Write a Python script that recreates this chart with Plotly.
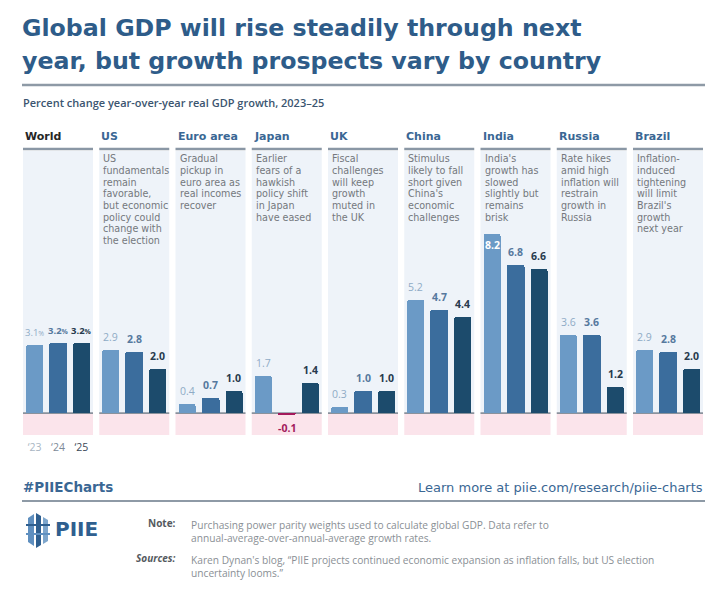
import plotly.graph_objects as go

# Page body has an 8px default margin; compensate so screen coordinates match.
OFF = 8
W, H = 720 - 2 * OFF, 589 - 2 * OFF

regions = ["World", "US", "Euro area", "Japan", "UK", "China", "India", "Russia", "Brazil"]
years = ["'23", "'24", "'25"]
gdp_2023 = [3.1, 2.9, 0.4, 1.7, 0.3, 5.2, 8.2, 3.6, 2.9]
gdp_2024 = [3.2, 2.8, 0.7, -0.1, 1.0, 4.7, 6.8, 3.6, 2.8]
gdp_2025 = [3.2, 2.0, 1.0, 1.4, 1.0, 4.4, 6.6, 1.2, 2.0]
notes = [
    [],
    ["US", "fundamentals", "remain", "favorable,", "but economic", "policy could", "change with", "the election"],
    ["Gradual", "pickup in", "euro area as", "real incomes", "recover"],
    ["Earlier", "fears of a", "hawkish", "policy shift", "in Japan", "have eased"],
    ["Fiscal", "challenges", "will keep", "growth", "muted in", "the UK"],
    ["Stimulus", "likely to fall", "short given", "China's", "economic", "challenges"],
    ["India's", "growth has", "slowed", "slightly but", "remains", "brisk"],
    ["Rate hikes", "amid high", "inflation will", "restrain", "growth in", "Russia"],
    ["Inflation-", "induced", "tightening", "will limit", "Brazil's", "growth", "next year"],
]
note_lines = ["Purchasing power parity weights used to calculate global GDP. Data refer to",
              "annual-average-over-annual-average growth rates."]
source_lines = ["Karen Dynan's blog, \u201cPIIE projects continued economic expansion as inflation falls, but US election",
                "uncertainty looms.\u201d"]

BAR_COLORS = ["#6b9ac6", "#3b6d9d", "#1c4b6c"]
LABEL_COLORS = ["#8fabc6", "#56799e", "#273a4d"]
NEG_COLOR = "#a3195b"
TITLE_BLUE = "#2e5c89"
FONT = "DejaVu Sans"
FONT2 = "Open Sans"


def px(x):
    return (x - OFF) / W


def py(y):
    return 1 - (y - OFF) / H


Y_TOP, Y_BOT = 151, 435
PANEL_X0, PANEL_PITCH, PANEL_W = 23, 76.25, 70

fig = go.Figure()
shapes = []
annotations = []

for i, name in enumerate(regions):
    k = i + 1
    xa = "x" if k == 1 else f"x{k}"
    ya = "y" if k == 1 else f"y{k}"
    vals = [gdp_2023[i], gdp_2024[i], gdp_2025[i]]
    mcolors = [NEG_COLOR if v < 0 else BAR_COLORS[j] for j, v in enumerate(vals)]
    fig.add_trace(go.Bar(
        x=years, y=vals, xaxis=xa, yaxis=ya,
        marker=dict(color=mcolors, line=dict(width=0), cornerradius=2),
        width=0.73, cliponaxis=False,
        hoverinfo="skip", showlegend=False,
    ))
    # value labels
    suffix = "<span style='font-size:7px'>%</span>" if i == 0 else ""
    for j, v in enumerate(vals):
        t = f"{v:.1f}{suffix}"
        if j >= 1:
            t = f"<b>{t}</b>"
        col = NEG_COLOR if v < 0 else LABEL_COLORS[j]
        if v < 0:
            anc, shift = "top", -4
            t = f"<b>{v:.1f}</b>"
        elif v > 7.5:
            anc, shift, col = "top", -2, "white"
            t = f"<b>{v:.1f}</b>"
        else:
            anc, shift = "bottom", 4
        annotations.append(dict(text=t, xref=xa, yref=ya, x=years[j], y=v, yanchor=anc,
                                xanchor="center", yshift=shift, showarrow=False,
                                font=dict(size=10.5 if i else 9.5, family=FONT2, color=col)))
    x0 = PANEL_X0 + i * PANEL_PITCH
    dom = [px(x0), px(x0 + PANEL_W)]
    axkey = "xaxis" if k == 1 else f"xaxis{k}"
    aykey = "yaxis" if k == 1 else f"yaxis{k}"
    xdict = dict(domain=dom, anchor=ya, range=[-0.5, 2.5], showgrid=False,
                 zeroline=False, showline=False, ticks="", fixedrange=True)
    if i == 0:
        xdict.update(showticklabels=True, tickmode="array", tickvals=years,
                     ticktext=["<span style='color:#a9b6c3'>\u201823</span>",
                               "<span style='color:#7d8a98'>\u201824</span>",
                               "<span style='color:#3a4757'>\u201825</span>"],
                     tickfont=dict(size=10.5, family=FONT2), ticklabelstandoff=4)
    else:
        xdict.update(showticklabels=False)
    fig.update_layout({axkey: xdict})
    fig.update_layout({aykey: dict(domain=[py(Y_BOT), py(Y_TOP)], anchor=xa, range=[-1, 12],
                                   visible=False, fixedrange=True)})
    xd = f"{xa} domain"
    shapes.append(dict(type="rect", xref=xd, yref=ya, x0=0, x1=1, y0=0, y1=12,
                       fillcolor="#eef3f9", line=dict(width=0), layer="below"))
    shapes.append(dict(type="rect", xref=xd, yref=ya, x0=0, x1=1, y0=-1, y1=0,
                       fillcolor="#fbe4eb", line=dict(width=0), layer="below"))
    shapes.append(dict(type="line", xref=xd, yref=ya, x0=0, x1=1, y0=0, y1=0,
                       line=dict(color="#8a929c", width=1.8), layer="below"))
    shapes.append(dict(type="line", xref=xd, yref="paper", x0=0, x1=1, y0=py(149), y1=py(149),
                       line=dict(color="#8a97a5", width=2.5)))
    annotations.append(dict(text=f"<b>{name}</b>", xref=xd, yref="paper", x=0, y=py(137),
                            xanchor="left", yanchor="middle", showarrow=False,
                            font=dict(size=11, family=FONT,
                                      color="#262626" if i == 0 else "#3a6794")))
    for j, line in enumerate(notes[i]):
        annotations.append(dict(text=line, xref=xd, yref="paper", x=0.03, y=py(159 + j * 11.6),
                                xanchor="left", yanchor="middle", showarrow=False,
                                font=dict(size=9.6, family=FONT, color="#74787d")))

annotations.append(dict(text="<b>Global GDP will rise steadily through next</b>",
                        xref="paper", yref="paper", x=px(20), y=py(28), xanchor="left", yanchor="middle",
                        showarrow=False, font=dict(size=23.7, family=FONT, color=TITLE_BLUE)))
annotations.append(dict(text="<b>year, but growth prospects vary by country</b>",
                        xref="paper", yref="paper", x=px(20), y=py(61), xanchor="left", yanchor="middle",
                        showarrow=False, font=dict(size=23.7, family=FONT, color=TITLE_BLUE)))
shapes.append(dict(type="line", xref="paper", yref="paper", x0=px(22), x1=px(705), y0=py(85), y1=py(85),
                   line=dict(color="#8e9aa6", width=2.5)))
annotations.append(dict(text="Percent change year-over-year real GDP growth, 2023\u201325",
                        xref="paper", yref="paper", x=px(21), y=py(102), xanchor="left", yanchor="middle",
                        showarrow=False, font=dict(size=11, family=FONT2, color="#3b5570", weight=600)))

annotations.append(dict(text="<b>#PIIECharts</b>", xref="paper", yref="paper", x=px(21), y=py(487),
                        xanchor="left", yanchor="middle", showarrow=False,
                        font=dict(size=13.5, family=FONT, color="#3a6794")))
annotations.append(dict(text="Learn more at piie.com/research/piie-charts", xref="paper", yref="paper",
                        x=px(705), y=py(487), xanchor="right", yanchor="middle", showarrow=False,
                        font=dict(size=13, family=FONT, color="#3a6794")))
shapes.append(dict(type="line", xref="paper", yref="paper", x0=px(22), x1=px(705), y0=py(501), y1=py(501),
                   line=dict(color="#8e9aa6", width=2)))

logo_polys = [
    ([(28, 518), (34, 514), (34, 546), (28, 542)], "#5f8fbf"),
    ([(36, 513), (41, 516), (41, 545), (36, 548)], "#2f5f8f"),
    ([(43, 517), (48, 520), (48, 541), (43, 544)], "#7ea6cc"),
    ([(26, 524), (50, 524), (50, 526), (26, 526)], "#2f5f8f"),
    ([(26, 533), (50, 533), (50, 535), (26, 535)], "#5f8fbf"),
]
for pts, col in logo_polys:
    path = "M " + " L ".join(f"{px(a):.5f} {py(b):.5f}" for a, b in pts) + " Z"
    shapes.append(dict(type="path", xref="paper", yref="paper", path=path,
                       fillcolor=col, line=dict(width=0)))
annotations.append(dict(text="<b>PIIE</b>", xref="paper", yref="paper", x=px(53), y=py(529),
                        xanchor="left", yanchor="middle", showarrow=False,
                        font=dict(size=20, family=FONT, color="#2f5f8f")))

note_font = dict(size=10.2, family=FONT2, color="#8a8f95")
annotations.append(dict(text="<b>Note:</b>", xref="paper", yref="paper", x=px(178), y=py(523),
                        xanchor="right", yanchor="middle", showarrow=False,
                        font=dict(size=10, family=FONT2, color="#555a60")))
annotations.append(dict(text="<b><i>Sources:</i></b>", xref="paper", yref="paper", x=px(178), y=py(558),
                        xanchor="right", yanchor="middle", showarrow=False,
                        font=dict(size=10, family=FONT2, color="#555a60")))
annotations.append(dict(text="<br>".join(note_lines), xref="paper", yref="paper", x=px(189), y=py(516),
                        xanchor="left", yanchor="top", align="left", showarrow=False, font=note_font))
annotations.append(dict(text="<br>".join(source_lines), xref="paper", yref="paper", x=px(189), y=py(551),
                        xanchor="left", yanchor="top", align="left", showarrow=False, font=note_font))

fig.update_layout(
    width=W, height=H, margin=dict(l=0, r=0, t=0, b=0),
    paper_bgcolor="white", plot_bgcolor="rgba(0,0,0,0)",
    shapes=shapes, annotations=annotations, bargap=0,
    font=dict(family=FONT),
)
fig.write_html("out.html")
